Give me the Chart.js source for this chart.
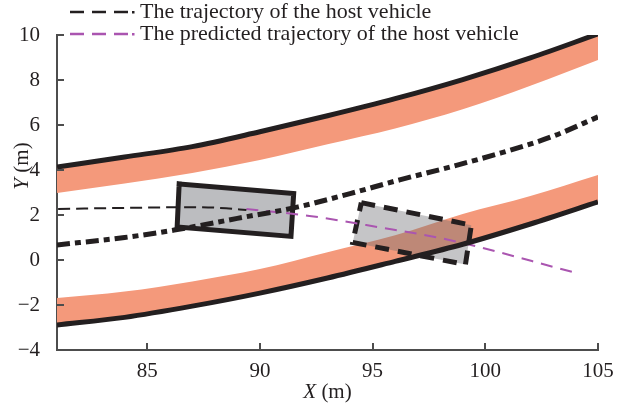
<!DOCTYPE html>
<html>
<head>
<meta charset="utf-8">
<script src="https://cdn.jsdelivr.net/npm/chart.js@4/dist/chart.umd.min.js"></script>
<style>
  html, body { margin: 0; padding: 0; background: #fff; }
  #wrap { width: 630px; height: 412px; }
</style>
</head>
<body>
<div id="wrap"><canvas id="chart"></canvas></div>
<script>
// road edges, sampled along X
const roadX = [81, 84, 87, 90, 93, 96, 99, 102, 105];
const upperLine = [4.13, 4.58, 5.04, 5.7, 6.41, 7.17, 8.02, 8.98, 10.05];
const upperBand = [2.98, 3.4, 3.87, 4.45, 5.15, 5.85, 6.7, 7.75, 8.89];
const lowerLine = [-2.89, -2.55, -2.05, -1.47, -0.8, -0.06, 0.7, 1.6, 2.58];
const lowerBand = [-1.69, -1.4, -0.95, -0.4, 0.35, 1.1, 2.05, 2.85, 3.78];

// lane centre (dash-dot)
const centreX = [81, 84, 86.2, 89, 91.7, 94, 96.2, 98.5, 100.7, 103, 105];
const centreY = [0.67, 1.0, 1.33, 1.85, 2.36, 2.95, 3.56, 4.15, 4.76, 5.5, 6.36];

// host vehicle: driven and predicted
const hostX = [81.05, 83, 85, 87, 88.5, 89.4];
const hostY = [2.27, 2.3, 2.33, 2.35, 2.3, 2.22];
const predX = [89.4, 92.2, 95.2, 98.4, 103.9];
const predY = [2.27, 1.96, 1.47, 0.89, -0.54];

// vehicle outlines (closed)
const car1X = [86.42, 91.5, 91.38, 86.33, 86.42];
const car1Y = [3.38, 2.95, 1.05, 1.47, 3.38];
const car2X = [94.5, 99.38, 99.12, 94.12, 94.5];
const car2Y = [2.55, 1.55, -0.2, 0.78, 2.55];

const xTicks = [85, 90, 95, 100, 105];
const yTicks = [-4, -2, 0, 2, 4, 6, 8, 10];
const legendLabels = ['The trajectory of the host vehicle', 'The predicted trajectory of the host vehicle'];

const ink = '#231f20';
const axisCol = '#4d4d4d';
const salmon = '#f4997b';
const purple = '#aa55b0';
const serif = '"Liberation Serif", "DejaVu Serif", serif';

const pts = (xs, ys) => xs.map((x, i) => ({ x: x, y: ys[i] }));

const line = (data, extra) => Object.assign({
  data: data,
  showLine: true,
  pointRadius: 0,
  borderColor: ink,
  borderWidth: 5,
  cubicInterpolationMode: 'monotone',
  fill: false
}, extra);

// inward ticks, axis titles and the legend drawn straight on the canvas
const decorations = {
  id: 'decorations',
  afterDraw(chart) {
    const ctx = chart.ctx;
    const xs = chart.scales.x, ys = chart.scales.y;
    const area = chart.chartArea;
    ctx.save();
    ctx.strokeStyle = axisCol;
    ctx.lineWidth = 2;
    ctx.setLineDash([]);
    ctx.beginPath();
    xTicks.forEach(v => {
      const p = Math.round(xs.getPixelForValue(v));
      ctx.moveTo(p, area.bottom);
      ctx.lineTo(p, area.bottom - 7);
    });
    yTicks.forEach(v => {
      const p = Math.round(ys.getPixelForValue(v));
      ctx.moveTo(area.left, p);
      ctx.lineTo(area.left + 7, p);
    });
    ctx.stroke();

    // axis titles: italic letter, upright unit
    ctx.fillStyle = ink;
    ctx.textBaseline = 'middle';
    ctx.textAlign = 'left';
    const title = (letter, cx, cy, rot) => {
      ctx.save();
      ctx.translate(cx, cy);
      ctx.rotate(rot);
      ctx.font = 'italic 21px ' + serif;
      const w1 = ctx.measureText(letter).width;
      ctx.font = '21px ' + serif;
      const w2 = ctx.measureText(' (m)').width;
      let x0 = -(w1 + w2) / 2;
      ctx.font = 'italic 21px ' + serif;
      ctx.fillText(letter, x0, 0);
      ctx.font = '21px ' + serif;
      ctx.fillText(' (m)', x0 + w1, 0);
      ctx.restore();
    };
    title('X', (area.left + area.right) / 2, 392, 0);
    title('Y', 22, 166, -Math.PI / 2);

    // legend
    const legendCols = [ink, purple];
    ctx.font = '22px ' + serif;
    legendLabels.forEach((label, i) => {
      const y = 12 + i * 22;
      ctx.strokeStyle = legendCols[i];
      ctx.lineWidth = 2.5;
      ctx.setLineDash([14, 8]);
      ctx.beginPath();
      ctx.moveTo(70, y);
      ctx.lineTo(128, y);
      ctx.stroke();
      ctx.fillStyle = legendCols[i];
      ctx.fillRect(132, y - 1, 2.5, 2.5);
      ctx.fillStyle = ink;
      ctx.fillText(label, 140, y);
    });
    ctx.restore();
  }
};

new Chart(document.getElementById('chart'), {
  type: 'scatter',
  data: {
    datasets: [
      line(pts(roadX, upperLine), { order: 1 }),
      line(pts(roadX, upperBand), { borderWidth: 0, fill: 0, backgroundColor: salmon, order: 10 }),
      line(pts(roadX, lowerLine), { order: 1 }),
      line(pts(roadX, lowerBand), { borderWidth: 0, fill: 2, backgroundColor: salmon, order: 10 }),
      line(pts(centreX, centreY), { borderDash: [13, 5, 6, 5], order: 1 }),
      line(pts(car1X, car1Y), { cubicInterpolationMode: 'default', tension: 0, fill: 'shape', backgroundColor: '#bcbdc0', borderJoinStyle: 'miter', borderCapStyle: 'square', order: 5 }),
      line(pts(car2X, car2Y), { cubicInterpolationMode: 'default', tension: 0, fill: 'shape', backgroundColor: 'rgba(110,110,115,0.4)', borderDash: [14, 9], borderJoinStyle: 'miter', order: 5 }),
      line(pts(hostX, hostY), { borderWidth: 2, borderDash: [12, 6], order: 2 }),
      line(pts(predX, predY), { borderWidth: 2, borderColor: purple, borderDash: [12, 8], order: 2 })
    ]
  },
  options: {
    responsive: true,
    maintainAspectRatio: false,
    animation: false,
    layout: { padding: { top: 35, right: 32, left: 0, bottom: 0 } },
    plugins: {
      legend: { display: false },
      tooltip: { enabled: false }
    },
    scales: {
      x: {
        type: 'linear',
        min: 81,
        max: 105,
        afterBuildTicks: s => { s.ticks = xTicks.map(v => ({ value: v })); },
        afterFit: s => { s.height = 62; },
        grid: { display: false },
        border: { display: true, color: axisCol, width: 2 },
        ticks: { color: ink, padding: 1, maxRotation: 0, font: { family: serif, size: 21 } }
      },
      y: {
        type: 'linear',
        min: -4,
        max: 10,
        afterBuildTicks: s => { s.ticks = yTicks.map(v => ({ value: v })); },
        afterFit: s => { s.width = 57; },
        grid: { display: false },
        border: { display: true, color: axisCol, width: 2 },
        ticks: {
          color: ink,
          padding: 9,
          font: { family: serif, size: 21 },
          callback: v => (v < 0 ? '\u2212' + Math.abs(v) : String(v))
        }
      }
    }
  },
  plugins: [decorations]
});
</script>
</body>
</html>
